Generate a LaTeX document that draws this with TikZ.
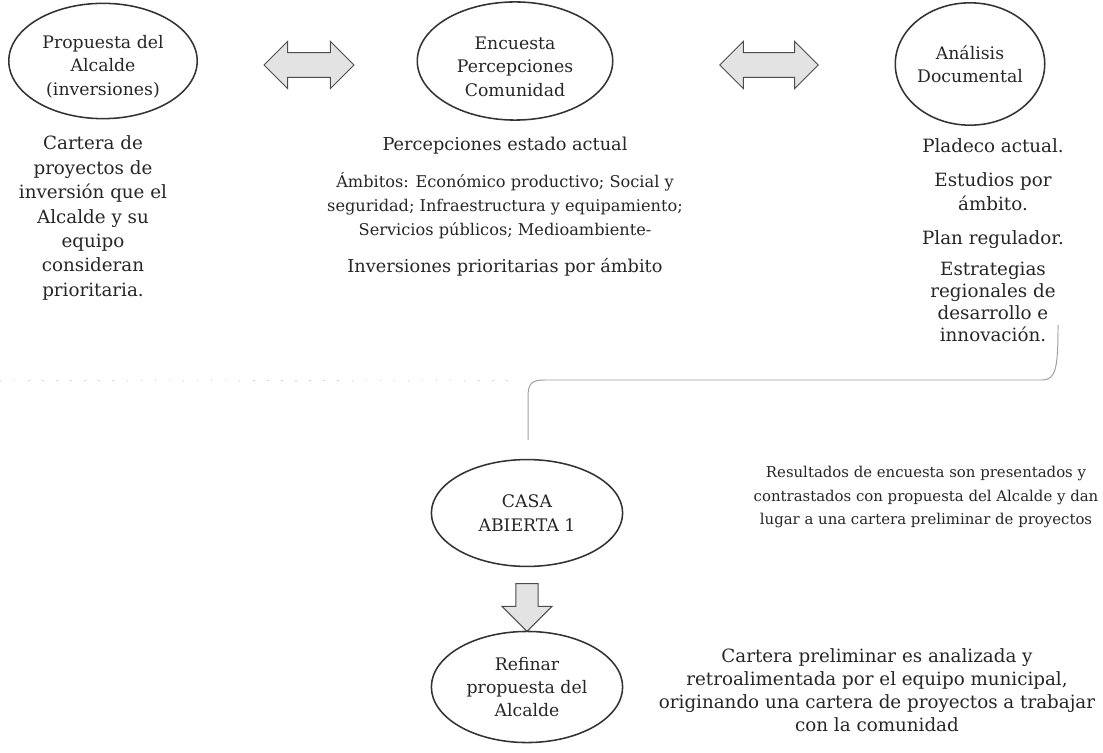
\documentclass[tikz,border=0pt]{standalone}
\usepackage{fontspec}
\setmainfont{DejaVu Serif}
\usetikzlibrary{shapes.geometric,shapes.arrows}
\begin{document}
\begin{tikzpicture}[x=0.025cm,y=-0.025cm,
  oval/.style={ellipse,draw=black!80,line width=1.1pt,inner sep=0pt,align=center,text=black!85,font=\fontsize{12.3}{16.5}\selectfont},
  ovtxt/.style={align=center,inner sep=0pt,text=black!85,font=\fontsize{12.3}{16.5}\selectfont},
  txt/.style={align=center,inner sep=0pt,text=black!85},
  dbl/.style={double arrow,draw=gray!60!black,fill=gray!22,line width=0.7pt,inner xsep=0pt,inner ysep=8.5pt,double arrow head extend=8pt},
  sgl/.style={single arrow,draw=gray!60!black,fill=gray!22,line width=0.7pt,inner xsep=0pt,inner ysep=7.5pt,single arrow head extend=10pt,rotate=-90},
  brace/.style={draw=gray!75,line width=0.7pt},
  faint/.style={draw=gray!35,line width=0.6pt,dash pattern=on 1pt off 9pt}
 ]
\useasboundingbox (0,0) rectangle (1103,753);
% top ellipses
\node[oval,minimum width=134pt,minimum height=82pt] (e1) at (103,61) {};
\node[ovtxt] (e1t) at ([yshift=-4pt]e1.center) {Propuesta del\\Alcalde\\(inversiones)};
\node[oval,minimum width=139pt,minimum height=84pt] (e2) at (515,61) {};
\node[ovtxt] (e2t) at ([yshift=-4pt]e2.center) {Encuesta\\Percepciones\\Comunidad};
\node[oval,minimum width=104pt,minimum height=87pt] (e3) at (970,64) {Análisis\\Documental};
% double arrows
\node[dbl,minimum height=64pt] (a1) at (309,65) {};
\node[dbl,minimum height=70pt] (a2) at (769,65) {};
% text below ellipses
\node[txt,font=\fontsize{13}{17.4}\selectfont] (t1) at (93,218) {Cartera de\\proyectos de\\inversión que el\\Alcalde y su\\equipo\\consideran\\prioritaria.};
\node[txt,font=\fontsize{12.6}{17}\selectfont] (t2) at (505,146) {Percepciones estado actual};
\node[txt,font=\fontsize{11.5}{17}\selectfont] (t3) at (505,206) {Ámbitos: Económico productivo; Social y\\seguridad; Infraestructura y equipamiento;\\Servicios públicos; Medioambiente-};
\node[txt,font=\fontsize{12.6}{17}\selectfont] (t4) at (505,267) {Inversiones prioritarias por ámbito};
\node[txt,font=\fontsize{13}{17}\selectfont] (r1) at (993,146) {Pladeco actual.};
\node[txt,font=\fontsize{13}{17}\selectfont] (r2) at (993,192) {Estudios por\\ámbito.};
\node[txt,font=\fontsize{13}{17}\selectfont] (r3) at (993,240) {Plan regulador.};
\node[txt,font=\fontsize{13}{15.6}\selectfont] (r4) at (993,302) {Estrategias\\regionales de\\desarrollo e\\innovación.};
% bracket
\coordinate (b0) at (1058,325);
\coordinate (tip) at (528,440);
\coordinate (fl) at (0,380);
\node[oval,minimum width=136pt,minimum height=76pt] (e4) at (527,513) {CASA\\ABIERTA 1};
\draw[brace] (b0) .. controls (1058,368) and (1056,380) .. (1042,380) -- (545,380) .. controls (532,380) and (528,383) .. (528,397) -- (tip);
\draw[faint] (fl) -- (520,380);
% lower part
\node[sgl,minimum height=34pt] (a3) at (527,602) {};
\node[oval,minimum width=136pt,minimum height=79pt] (e5) at (527,687) {Refinar\\propuesta del\\Alcalde};
\node[txt,font=\fontsize{10.6}{16.4}\selectfont] (c1) at (926,497) {Resultados de encuesta son presentados y\\contrastados con propuesta del Alcalde y dan\\lugar a una cartera preliminar de proyectos};
\node[txt,font=\fontsize{13}{16.4}\selectfont] (c2) at (877,690) {Cartera preliminar es analizada y\\retroalimentada por el equipo municipal,\\originando una cartera de proyectos a trabajar\\con la comunidad};
\end{tikzpicture}
\end{document}
